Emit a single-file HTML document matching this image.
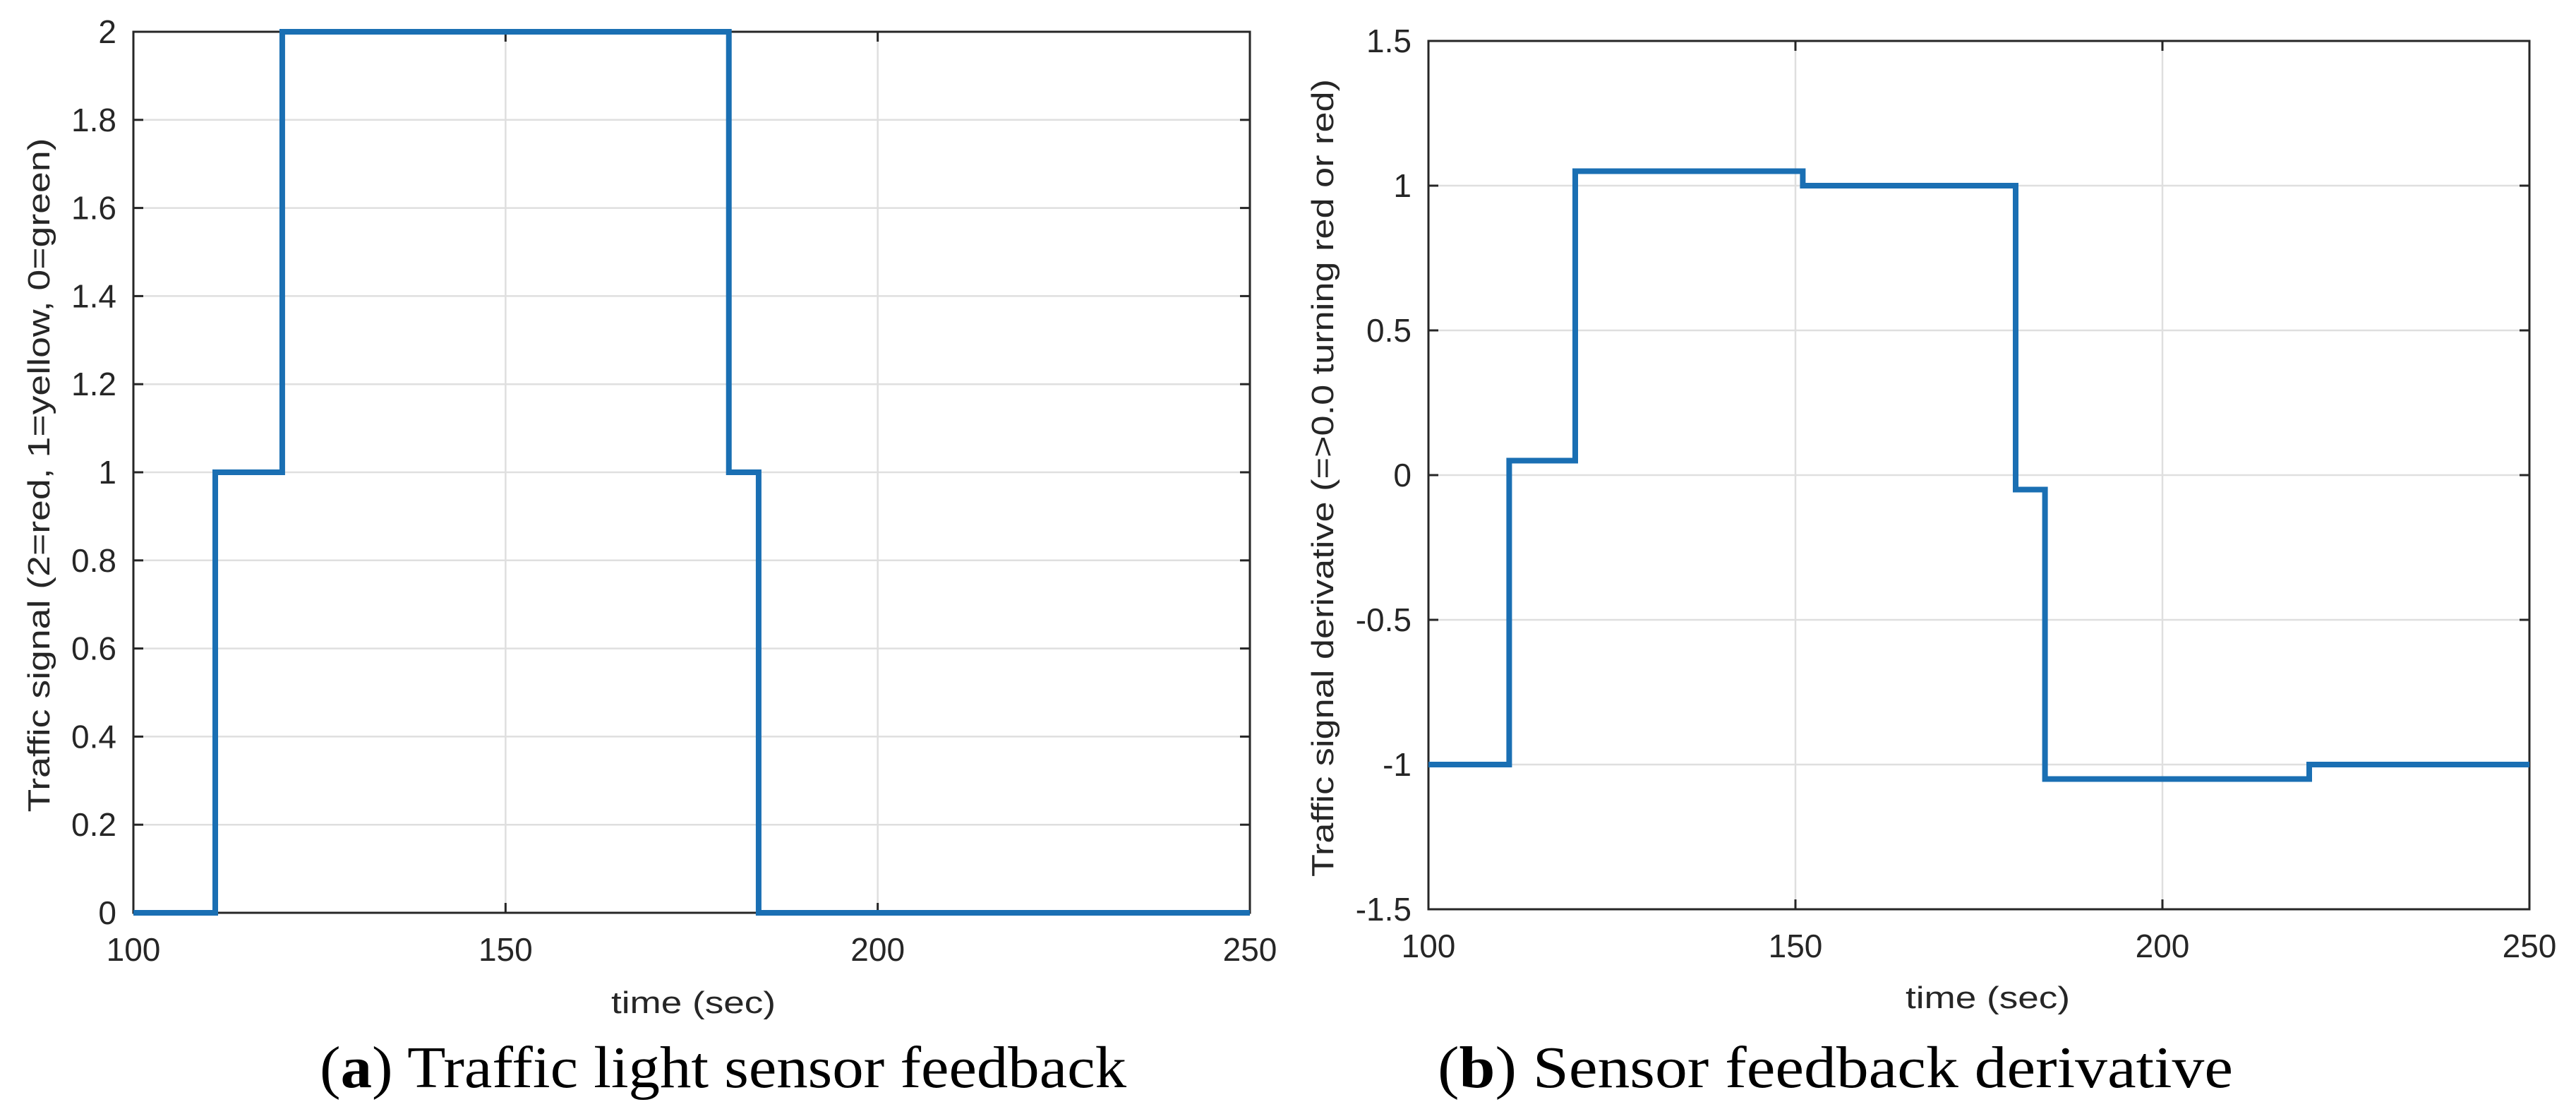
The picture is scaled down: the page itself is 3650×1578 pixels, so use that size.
<!DOCTYPE html>
<html><head><meta charset="utf-8"><style>
html,body{margin:0;padding:0;background:#fff;}
svg{display:block;}
.tick{font-family:"Liberation Sans",sans-serif;font-size:46px;fill:#262626;}
.lab{font-family:"Liberation Sans",sans-serif;font-size:44px;fill:#262626;}
.cap{font-family:"Liberation Serif",serif;font-size:84px;fill:#000;}
</style></head><body>
<svg id="fig" width="3650" height="1578" viewBox="0 0 3650 1578" xmlns="http://www.w3.org/2000/svg">
<g id="pa"></g>
<g id="pb"></g>
<text class="cap" x="453" y="1540" textLength="1143" lengthAdjust="spacingAndGlyphs">(<tspan font-weight="bold">a</tspan>) Traffic light sensor feedback</text>
<text class="cap" x="2037" y="1540" textLength="1127" lengthAdjust="spacingAndGlyphs">(<tspan font-weight="bold">b</tspan>) Sensor feedback derivative</text>
</svg>
<script>
const xTicks = [100, 150, 200, 250];
const aYTicks = [0, 0.2, 0.4, 0.6, 0.8, 1, 1.2, 1.4, 1.6, 1.8, 2];
const aYTickLabels = ["0","0.2","0.4","0.6","0.8","1","1.2","1.4","1.6","1.8","2"];
const aTimes = [100, 111, 120, 180, 184, 250];
const aValues = [0, 1, 2, 1, 0, 0];
const bYTicks = [-1.5, -1, -0.5, 0, 0.5, 1, 1.5];
const bYTickLabels = ["-1.5","-1","-0.5","0","0.5","1","1.5"];
const bTimes = [100, 111, 120, 151, 180, 184, 220, 250];
const bValues = [-1, 0.05, 1.05, 1, -0.05, -1.05, -1, -1];

const NS = "http://www.w3.org/2000/svg";
function mk(parent, tag, attrs){const e=document.createElementNS(NS,tag);for(const k in attrs)e.setAttribute(k,attrs[k]);parent.appendChild(e);return e;}

function drawPanel(g, box, xmin, xmax, ymin, ymax, yt, ytl, times, vals, ylabel, ylx, xlabX, xlabY, xlabW, ylabLen){
  const X = v => box.l + (v - xmin) / (xmax - xmin) * (box.r - box.l);
  const Y = v => box.b - (v - ymin) / (ymax - ymin) * (box.b - box.t);
  xTicks.forEach(t=>{
    const l=mk(g,'line',{x1:X(t),x2:X(t),y1:box.t,y2:box.b,stroke:'#dfdfdf','stroke-width':2.5});
    
    
  });
  yt.forEach(t=>{
    const l=mk(g,'line',{x1:box.l,x2:box.r,y1:Y(t),y2:Y(t),stroke:'#dfdfdf','stroke-width':2.5});
    
    
  });
  const fr=mk(g,'rect',{x:box.l,y:box.t,width:box.r-box.l,height:box.b-box.t,fill:'none',stroke:'#262626','stroke-width':3});
  
  
  xTicks.forEach(t=>{
    mk(g,'line',{x1:X(t),x2:X(t),y1:box.b,y2:box.b-14,stroke:'#262626','stroke-width':3});
    mk(g,'line',{x1:X(t),x2:X(t),y1:box.t,y2:box.t+14,stroke:'#262626','stroke-width':3});
    const tx=mk(g,'text',{x:X(t),y:box.b+68,'text-anchor':'middle',class:'tick'});
    tx.textContent=String(t);
    
    
  });
  yt.forEach((t,i)=>{
    mk(g,'line',{x1:box.l,x2:box.l+14,y1:Y(t),y2:Y(t),stroke:'#262626','stroke-width':3});
    mk(g,'line',{x1:box.r,x2:box.r-14,y1:Y(t),y2:Y(t),stroke:'#262626','stroke-width':3});
    const tx=mk(g,'text',{x:box.l-24,y:Y(t)+16,'text-anchor':'end',class:'tick'});
    tx.textContent=ytl[i];
    
    
  });
  let d='';
  for(let i=0;i<times.length-1;i++){
    d += (i===0?'M':'L')+X(times[i])+','+Y(vals[i])+' L'+X(times[i+1])+','+Y(vals[i]);
  }
  const p=mk(g,'path',{d:d,fill:'none',stroke:'#1a6fb3','stroke-width':8,'stroke-linejoin':'miter'});
  
  
  const xl=mk(g,'text',{x:xlabX,y:xlabY,class:'lab',textLength:xlabW,lengthAdjust:'spacingAndGlyphs'});
  xl.textContent='time (sec)';
  
  
  const cy=(box.t+box.b)/2+4;
  const yl=mk(g,'text',{x:0,y:0,class:'lab','text-anchor':'middle',transform:'translate('+(ylx+15)+','+cy+') rotate(-90)',textLength:ylabLen,lengthAdjust:'spacingAndGlyphs'});
  yl.textContent=ylabel;
  
  
}
drawPanel(document.getElementById('pa'),{l:189,r:1771,t:45,b:1293},100,250,0,2,aYTicks,aYTickLabels,aTimes,aValues,
  'Traffic signal (2=red, 1=yellow, 0=green)',55,866,1435,233,955);
drawPanel(document.getElementById('pb'),{l:2024,r:3584,t:58,b:1288},100,250,-1.5,1.5,bYTicks,bYTickLabels,bTimes,bValues,
  'Traffic signal derivative (=>0.0 turning red or red)',1874,2700,1428,233,1130);
</script>
</body></html>
